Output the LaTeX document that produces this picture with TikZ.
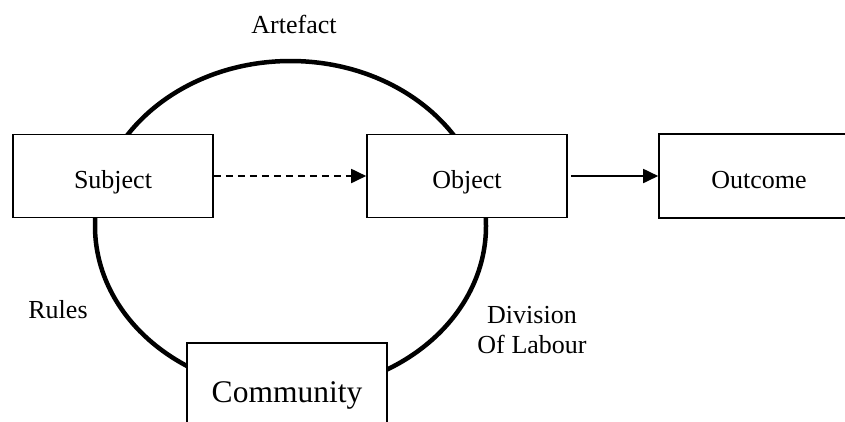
\documentclass[tikz,border=0pt]{standalone}
\usepackage{fontspec}
\setmainfont{Liberation Serif}
\usetikzlibrary{arrows.meta,shapes.geometric}
\tikzset{
  box/.style={draw, line width=1.6pt, fill=white, minimum width=200pt, minimum height=83pt, inner sep=0pt, text height=25pt, text depth=0pt, font=\fontsize{26}{30}\selectfont},
  lbl/.style={font=\fontsize{26}{30}\selectfont, inner sep=0pt},
  tip/.style={-{Triangle[length=15pt,width=14pt]}, line width=1.8pt},
  cyc/.style={draw, ellipse, line width=4.5pt, inner sep=0pt}
}
\begin{document}
\begin{tikzpicture}[x=1pt,y=-1pt]
\clip (0,0) rectangle (845,421);
\fill[white] (0,0) rectangle (845,421);
\node[cyc, minimum width=391pt, minimum height=330pt] (cycle) at (290.5,226) {};
\node[box] (subject) at (113,176) {Subject};
\node[box] (object) at (467,176) {Object};
\node[box, minimum height=84pt] (outcome) at (759,176) {Outcome};
\node[box, minimum height=98pt, text height=20pt, font=\fontsize{31.5}{36}\selectfont] (community) at (287,392) {Community};
\draw[tip, dash pattern=on 7pt off 5pt] (subject.east) -- (object.west);
\draw[tip, shorten <=3pt] (object.east) -- (outcome.west);
\node[lbl, anchor=base] (artefact) at (294,33) {Artefact};
\node[lbl, anchor=base] (rules) at (58,318) {Rules};
\node[lbl, anchor=base, text width=130pt, align=center] (division) at (532,323) {Division\\Of\hspace{-2pt} Labour};
\end{tikzpicture}
\end{document}
